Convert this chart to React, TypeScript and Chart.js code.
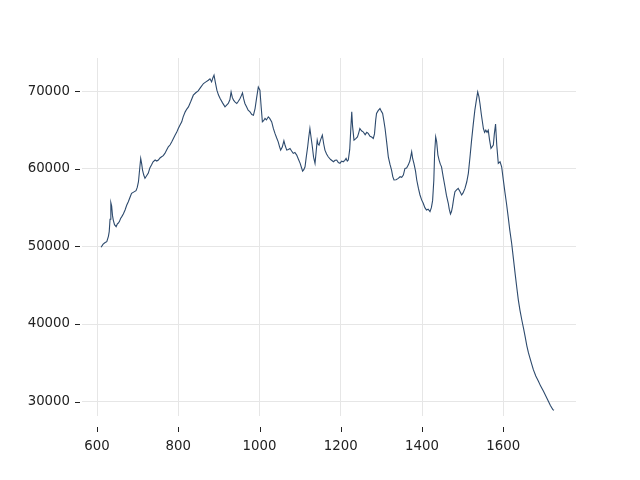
import React, { useEffect, useRef } from "react";
import { Chart, registerables } from "chart.js";

Chart.register(...registerables);

const xValues: number[] = [
  610, 615, 620, 624, 628, 630, 632, 634, 636, 638, 640, 643, 647, 650, 652, 655, 658, 661, 665, 669,
  673, 677, 681, 685, 690, 696, 699, 702, 705, 707.5, 710, 712, 715, 718, 722, 726, 730, 734, 738, 743,
  747, 751, 755, 759, 763, 767, 771, 775.5, 780, 784, 788, 792, 796, 800, 804, 808.5, 812, 817, 821, 825,
  831, 837, 843, 849, 855, 862, 868, 874, 878, 882, 885, 888, 891, 895, 899, 903, 909, 915, 919, 923,
  927, 930, 933, 936, 940, 944, 948, 952, 955, 958, 961, 964, 968, 972, 976.6, 981, 985, 989, 993, 997,
  1001, 1004, 1007, 1010, 1013.5, 1017, 1021.6, 1025, 1030, 1034, 1038, 1042, 1046, 1049, 1052, 1056, 1060, 1063, 1067, 1071,
  1075, 1079, 1083, 1087, 1091.5, 1096, 1100, 1103, 1106, 1109, 1112, 1115, 1118.5, 1121, 1124, 1127, 1130, 1133, 1136.6, 1139,
  1142, 1144, 1146.5, 1150, 1154.6, 1158, 1161, 1165, 1169, 1175, 1182, 1186, 1190, 1194, 1198, 1202, 1206, 1210, 1213, 1216,
  1218.5, 1222, 1225, 1227, 1229, 1232.5, 1237, 1241, 1244, 1247, 1251, 1255, 1260, 1264, 1267.5, 1272, 1276, 1280, 1283, 1286,
  1288, 1292, 1296.5, 1300, 1303, 1306, 1309, 1313, 1317, 1321, 1325, 1328, 1331, 1336, 1341.5, 1346, 1350, 1354, 1358, 1362,
  1366, 1370, 1374.5, 1377, 1380, 1384, 1387, 1391, 1395, 1399, 1403, 1407, 1411, 1415, 1419.6, 1423, 1426, 1429, 1431, 1433.6,
  1436, 1439, 1442, 1445, 1448, 1452, 1456.5, 1460, 1464.6, 1467, 1470, 1472.5, 1475, 1478, 1481, 1485, 1489, 1493, 1497.5, 1501,
  1505.7, 1510, 1514, 1518, 1522, 1526, 1530, 1533, 1537, 1540, 1542.6, 1546, 1551, 1554, 1557, 1560, 1563, 1566, 1569.7, 1572,
  1575.5, 1578, 1581, 1584, 1587.7, 1592, 1596, 1600, 1604, 1608, 1612, 1616, 1620.6, 1625, 1629, 1633, 1637, 1641, 1645.5, 1650,
  1653.7, 1658, 1662, 1668, 1674, 1680, 1686.5, 1692, 1699, 1705, 1711, 1716, 1722, 1725,
];

const yValues: number[] = [
  49900, 50300, 50500, 50620, 51300, 51900, 53500, 55640, 55200, 54000, 53400, 52800, 52550, 52900, 52980, 53200, 53600, 53840, 54200, 54700,
  55300, 55760, 56300, 56840, 57000, 57180, 57600, 58340, 60000, 61340, 60600, 59840, 59200, 58770, 59100, 59420, 60100, 60480, 60900, 61130,
  61000, 61130, 61400, 61550, 61700, 61990, 62400, 62840, 63100, 63480, 63900, 64340, 64700, 65200, 65600, 66050, 66700, 67340, 67700, 67980,
  68700, 69490, 69800, 70040, 70500, 70990, 71200, 71410, 71600, 71200, 71700, 72060, 71200, 70130, 69500, 69060, 68500, 67980, 68200, 68420,
  68900, 69910, 69200, 68840, 68600, 68420, 68700, 69060, 69400, 69780, 69000, 68420, 68000, 67560, 67340, 67000, 66910, 67770, 69200, 70550,
  70130, 68000, 66050, 66200, 66490, 66300, 66700, 66500, 66050, 65200, 64560, 64000, 63480, 62900, 62410, 62800, 63610, 63000, 62410, 62500,
  62630, 62300, 61990, 62100, 61770, 61200, 60700, 60200, 59710, 59900, 60260, 61500, 62840, 64000, 65200, 64000, 62840, 61500, 60700, 62000,
  63700, 63200, 63050, 63700, 64340, 63200, 62410, 61900, 61550, 61200, 60910, 61100, 61130, 60800, 60700, 61000, 60910, 61100, 61340, 61000,
  61130, 62500, 65500, 67340, 65500, 63700, 63900, 64120, 64600, 65200, 64900, 64770, 64400, 64700, 64560, 64200, 64100, 63920, 64500, 66300,
  67130, 67500, 67770, 67400, 67130, 66200, 65200, 63400, 61550, 60600, 59840, 59000, 58560, 58600, 58770, 58980, 58900, 59200, 60060, 60100,
  60480, 61000, 62190, 61300, 60700, 59700, 58560, 57500, 56630, 56000, 55560, 55000, 54700, 54800, 54480, 55000, 55900, 58500, 62000, 64120,
  63500, 61800, 61130, 60600, 60260, 59000, 57690, 56600, 55560, 54800, 54180, 54500, 55120, 56200, 57050, 57300, 57480, 57100, 56630, 56900,
  57480, 58300, 59420, 61500, 63700, 65700, 67560, 68600, 69910, 69300, 68420, 67000, 65200, 64700, 64980, 64700, 64980, 63800, 62630, 62800,
  63050, 64500, 65760, 63000, 60700, 60900, 60260, 58600, 57000, 55500, 53840, 52100, 50410, 48400, 46560, 44800, 43120, 41800, 40550, 39400,
  38400, 37200, 36270, 35200, 34120, 33300, 32620, 32000, 31330, 30700, 30040, 29500, 28970, 28900,
];

const xTicks: number[] = [600, 800, 1000, 1200, 1400, 1600];
const yTicks: number[] = [30000, 40000, 50000, 60000, 70000];

const FONT = { family: "DejaVu Sans", size: 13.3 };

const tickMarks = {
  id: "tickMarks",
  afterDraw(chart: any) {
    const ctx = chart.ctx;
    const xs = chart.scales.x;
    const ys = chart.scales.y;
    ctx.save();
    ctx.strokeStyle = "#222";
    ctx.lineWidth = 1;
    ctx.beginPath();
    xTicks.forEach((v) => {
      const px = Math.round(xs.getPixelForValue(v)) + 0.5;
      ctx.moveTo(px, 427);
      ctx.lineTo(px, 432);
    });
    yTicks.forEach((v) => {
      const py = Math.round(ys.getPixelForValue(v)) + 0.5;
      ctx.moveTo(75, py);
      ctx.lineTo(80, py);
    });
    ctx.stroke();
    ctx.restore();
  },
};

export default function App() {
  const ref = useRef<HTMLCanvasElement | null>(null);
  useEffect(() => {
    if (!ref.current) return;
    const chart = new Chart(ref.current, {
      type: "line",
      data: {
        datasets: [
          {
            data: xValues.map((x, i) => ({ x, y: yValues[i] })),
            borderColor: "#2d4a6d",
            borderWidth: 1.1,
            pointRadius: 0,
            tension: 0,
            fill: false,
          },
        ],
      },
      options: {
        responsive: false,
        animation: false,
        layout: { padding: { left: 0, right: 64, top: 58, bottom: 0 } },
        plugins: { legend: { display: false }, tooltip: { enabled: false } },
        scales: {
          x: {
            type: "linear",
            min: 563,
            max: 1779,
            afterFit: (s: any) => {
              s.height = 480 - 416;
            },
            afterBuildTicks: (s: any) => {
              s.ticks = xTicks.map((v) => ({ value: v }));
            },
            border: { display: false },
            grid: { color: "#e6e6e6", lineWidth: 1, drawTicks: false },
            ticks: {
              font: FONT,
              color: "#222",
              padding: 23,
              maxRotation: 0,
              callback: (v: any) => String(v),
            },
          },
          y: {
            type: "linear",
            min: 28150,
            max: 74280,
            afterFit: (s: any) => {
              s.width = 82;
            },
            afterBuildTicks: (s: any) => {
              s.ticks = yTicks.map((v) => ({ value: v }));
            },
            border: { display: false },
            grid: { color: "#e6e6e6", lineWidth: 1, drawTicks: false },
            ticks: {
              font: FONT,
              color: "#222",
              padding: 12,
              callback: (v: any) => String(v),
            },
          },
        },
      },
      plugins: [tickMarks],
    });
    return () => chart.destroy();
  }, []);
  return (
    <div style={{ position: "absolute", left: 0, top: 0, width: 640, height: 480, background: "#fff" }}>
      <canvas ref={ref} width={640} height={480} />
    </div>
  );
}
